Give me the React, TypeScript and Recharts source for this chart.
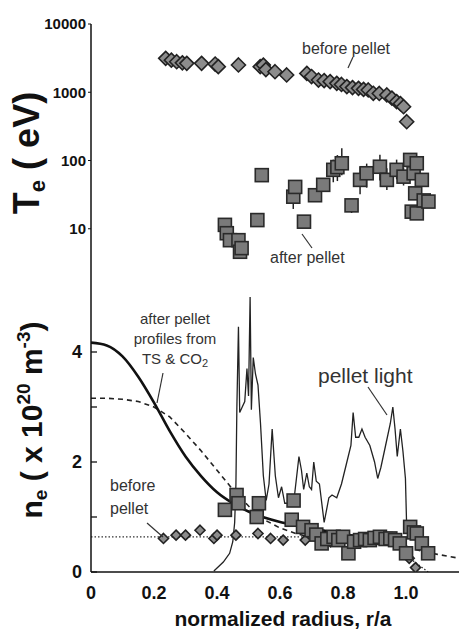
import React from "react";
import { ComposedChart, ErrorBar, Line, Scatter, XAxis, YAxis } from "recharts";

const FONT = "'Liberation Sans', Arial, Helvetica, sans-serif";
const W = 459;
const AXIS_X = 91;
const X_MAX = 1.168;
const INK = "#111";

// ---- top panel: Te (eV), log scale ----
const teBeforeR = [0.237, 0.255, 0.272, 0.29, 0.304, 0.351, 0.394, 0.404, 0.468, 0.537, 0.547, 0.555, 0.584, 0.621, 0.685, 0.7, 0.722, 0.74, 0.759, 0.78, 0.795, 0.812, 0.83, 0.849, 0.865, 0.88, 0.896, 0.915, 0.939, 0.955, 0.97, 0.982, 0.992, 1.002];
const teBeforeT = [3140, 2950, 2800, 2700, 2650, 2650, 2590, 2370, 2510, 2370, 2500, 2150, 2000, 1790, 1890, 1700, 1510, 1480, 1430, 1350, 1300, 1210, 1170, 1140, 1100, 1080, 966, 960, 912, 820, 728, 680, 614, 370];
const teAfterR = [0.425, 0.431, 0.441, 0.468, 0.473, 0.478, 0.528, 0.542, 0.642, 0.648, 0.676, 0.711, 0.737, 0.769, 0.782, 0.796, 0.827, 0.854, 0.875, 0.917, 0.939, 0.97, 0.992, 1.013, 1.018, 1.024, 1.029, 1.034, 1.034, 1.05, 1.056, 1.071];
const teAfterT = [11.4, 8.6, 6.8, 6.8, 4.6, 5.2, 13.4, 61, 29.5, 41, 12.7, 31, 44, 73, 80, 91, 22, 52, 65, 81, 52, 73, 58, 102, 17.8, 65, 33, 91, 16.8, 52, 26, 25];
const teAfterErrLo = [0, 0, 0, 0, 0, 0, 0, 12, 10, 8, 0, 0, 0, 25, 30, 30, 5, 20, 25, 30, 15, 20, 15, 0, 0, 0, 0, 0, 0, 0, 0, 0];
const teAfterErrHi = [0, 0, 0, 0, 0, 0, 0, 5, 8, 8, 0, 0, 0, 30, 40, 60, 5, 30, 25, 40, 25, 30, 20, 0, 0, 0, 0, 0, 0, 0, 0, 0];
const teTicks = [10, 100, 1000, 10000];

// ---- bottom panel: ne (1e20 m^-3) ----
const tsR = [0, 0.05, 0.1, 0.15, 0.2, 0.25, 0.3, 0.35, 0.4, 0.45, 0.5, 0.55, 0.6, 0.65, 0.7, 0.75, 0.8, 0.85, 0.9, 0.95, 1.0];
const tsNe = [4.17, 4.12, 3.92, 3.55, 3.08, 2.56, 2.1, 1.74, 1.45, 1.25, 1.1, 0.99, 0.91, 0.85, 0.79, 0.74, 0.69, 0.65, 0.62, 0.58, 0.52];
const co2R = [0, 0.05, 0.1, 0.15, 0.2, 0.25, 0.3, 0.35, 0.4, 0.45, 0.5, 0.55, 0.6, 0.65, 0.7, 0.8, 0.9, 1.0, 1.05, 1.1, 1.168];
const co2Ne = [3.16, 3.16, 3.14, 3.1, 3.0, 2.82, 2.52, 2.2, 1.85, 1.5, 1.2, 0.95, 0.8, 0.7, 0.63, 0.57, 0.52, 0.45, 0.38, 0.32, 0.25];
const beforeR = [0, 0.95, 1.0, 1.07];
const beforeNe = [0.64, 0.64, 0.3, 0];
const lightR = [0.39, 0.42, 0.44, 0.45, 0.456, 0.46, 0.463, 0.468, 0.472, 0.48, 0.488, 0.495, 0.5, 0.505, 0.509, 0.515, 0.522, 0.53, 0.538, 0.547, 0.556, 0.565, 0.575, 0.585, 0.595, 0.605, 0.615, 0.63, 0.645, 0.66, 0.668, 0.675, 0.685, 0.693, 0.7, 0.707, 0.715, 0.725, 0.74, 0.755, 0.765, 0.78, 0.795, 0.81, 0.825, 0.832, 0.84, 0.85, 0.86, 0.87, 0.885, 0.9, 0.91, 0.92, 0.935, 0.95, 0.958, 0.965, 0.972, 0.982, 0.99, 0.998, 1.002];
const lightNe = [0.02, 0.18, 0.34, 0.55, 0.9, 1.6, 3.0, 4.46, 2.9, 3.0, 3.1, 3.7, 3.2, 5.0, 2.95, 3.9, 3.6, 3.4, 2.7, 1.75, 1.3, 1.6, 2.6, 1.75, 1.35, 1.55, 1.25, 1.25, 1.35, 2.1, 1.85, 1.5, 1.8, 1.55, 1.5, 2.0, 1.65, 1.6, 0.9, 1.35, 1.4, 1.35, 1.6, 1.95, 2.3, 2.9, 2.45, 2.45, 2.6, 2.45, 2.3, 2.0, 1.7, 1.9, 2.3, 2.7, 3.0, 2.6, 2.1, 2.6, 2.2, 1.7, 0.8];
const neAfterR = [0.425, 0.462, 0.468, 0.526, 0.533, 0.637, 0.643, 0.673, 0.7, 0.715, 0.732, 0.75, 0.77, 0.785, 0.8, 0.817, 0.835, 0.854, 0.87, 0.885, 0.9, 0.917, 0.935, 0.95, 0.965, 0.98, 1.0, 1.013, 1.025, 1.034, 1.05, 1.07];
const neAfterNe = [1.13, 1.4, 1.25, 1.0, 1.25, 0.95, 1.3, 0.82, 0.76, 0.68, 0.52, 0.6, 0.64, 0.58, 0.64, 0.34, 0.55, 0.58, 0.6, 0.58, 0.62, 0.64, 0.6, 0.61, 0.58, 0.52, 0.34, 0.82, 0.72, 0.7, 0.52, 0.34];
const neBeforeR = [0.23, 0.27, 0.3, 0.346, 0.39, 0.4, 0.46, 0.53, 0.57, 0.61, 0.68, 0.72, 0.76, 0.8, 0.84, 0.88, 0.92, 0.96, 0.99, 1.01, 1.03];
const neBeforeNe = [0.61, 0.67, 0.67, 0.76, 0.61, 0.67, 0.67, 0.7, 0.61, 0.58, 0.58, 0.6, 0.55, 0.62, 0.58, 0.6, 0.62, 0.58, 0.45, 0.25, 0.08];
const neTicks = [0, 1, 2, 3, 4];
const rTicks = [0, 0.2, 0.4, 0.6, 0.8, 1.0];

const pts = (xs: number[], ys: number[]) => xs.map((r, i) => ({ r, v: ys[i] }));
const teAfter = teAfterR.map((r, i) => ({ r, v: teAfterT[i], err: [teAfterErrLo[i], teAfterErrHi[i]] }));

const DiamondShape = (props: any) => {
  const { cx, cy, h = 7 } = props;
  if (cx == null || cy == null) return null;
  return (
    <polygon
      points={`${cx},${cy - h} ${cx + h},${cy} ${cx},${cy + h} ${cx - h},${cy}`}
      fill="#8c8c8c"
      stroke="#222"
      strokeWidth={1.6}
    />
  );
};

const SquareShape = (props: any) => {
  const { cx, cy, h = 6.5 } = props;
  if (cx == null || cy == null) return null;
  return <rect x={cx - h} y={cy - h} width={2 * h} height={2 * h} fill="#7a7a7a" stroke="#2a2a2a" strokeWidth={1.6} />;
};

const NeTick = (props: any) => {
  const { y, payload } = props;
  return (
    <g>
      <line x1={AXIS_X} x2={AXIS_X + 6} y1={y} y2={y} stroke={INK} strokeWidth={1.3} />
      {payload.value % 2 === 0 ? (
        <text x={AXIS_X - 9} y={y} dy="0.35em" textAnchor="end" fontFamily={FONT} fontWeight="bold" fontSize={18} fill={INK}>
          {payload.value}
        </text>
      ) : null}
    </g>
  );
};

const note: React.CSSProperties = {
  position: "absolute",
  fontFamily: FONT,
  color: "#333",
  whiteSpace: "nowrap",
  lineHeight: 1,
};

export default function App() {
  return (
    <div style={{ position: "absolute", left: 0, top: 0, width: W, height: 630, background: "#fff", overflow: "hidden" }}>
      <div style={{ position: "absolute", left: 0, top: 0 }}>
        <ComposedChart width={W} height={300} margin={{ top: 24, right: 0, bottom: 3, left: 0 }}>
          <XAxis dataKey="r" type="number" domain={[0, X_MAX]} hide allowDataOverflow />
          <XAxis xAxisId="top" orientation="top" type="number" domain={[0, X_MAX]} height={0} tick={false} tickLine={false} axisLine={{ stroke: INK, strokeWidth: 1.5 }} />
          <YAxis
            dataKey="v"
            scale="log"
            domain={[1, 10000]}
            ticks={teTicks}
            width={AXIS_X}
            allowDataOverflow
            tickSize={3}
            tickMargin={2}
            axisLine={{ stroke: INK, strokeWidth: 1.5 }}
            tickLine={{ stroke: INK }}
            tick={{ fontFamily: FONT, fontWeight: "bold", fontSize: 15, fill: INK }}
          />
          <Scatter data={pts(teBeforeR, teBeforeT)} dataKey="v" shape={<DiamondShape h={7} />} isAnimationActive={false} />
          <Scatter data={teAfter} dataKey="v" shape={<SquareShape h={6.5} />} isAnimationActive={false}>
            <ErrorBar dataKey="err" direction="y" width={0} stroke="#222" strokeWidth={1.5} />
          </Scatter>
        </ComposedChart>
      </div>

      <div style={{ position: "absolute", left: 0, top: 0 }}>
        <ComposedChart width={W} height={630} margin={{ top: 297, right: 0, bottom: 28, left: 0 }}>
          <XAxis
            dataKey="r"
            type="number"
            domain={[0, X_MAX]}
            ticks={rTicks}
            height={30}
            allowDataOverflow
            tickLine={false}
            tickMargin={8}
            axisLine={{ stroke: INK, strokeWidth: 1.5 }}
            tickFormatter={(v: number) => (v === 0 ? "0" : v.toFixed(1))}
            tick={{ fontFamily: FONT, fontWeight: "bold", fontSize: 18, fill: INK }}
          />
          <XAxis
            xAxisId="top"
            orientation="top"
            type="number"
            domain={[0, X_MAX]}
            ticks={[0.2, 0.4, 0.6, 0.8, 1.0]}
            height={0}
            tick={false}
            tickSize={5}
            tickLine={{ stroke: INK, strokeWidth: 1.3 }}
            axisLine={{ stroke: INK, strokeWidth: 1.5 }}
          />
          <YAxis
            dataKey="v"
            type="number"
            domain={[0, 5]}
            ticks={neTicks}
            width={AXIS_X}
            allowDataOverflow
            tickLine={false}
            axisLine={{ stroke: INK, strokeWidth: 1.5 }}
            tick={<NeTick />}
          />
          <Line data={pts(beforeR, beforeNe)} dataKey="v" dot={false} stroke="#333" strokeWidth={1.3} strokeDasharray="1.5 2" isAnimationActive={false} />
          <Line data={pts(co2R, co2Ne)} dataKey="v" dot={false} stroke="#222" strokeWidth={1.6} strokeDasharray="5 4" isAnimationActive={false} />
          <Line data={pts(tsR, tsNe)} dataKey="v" dot={false} type="monotone" stroke={INK} strokeWidth={2.6} isAnimationActive={false} />
          <Line data={pts(lightR, lightNe)} dataKey="v" dot={false} stroke="#222" strokeWidth={1.3} isAnimationActive={false} />
          <Scatter data={pts(neBeforeR, neBeforeNe)} dataKey="v" shape={<DiamondShape h={5} />} isAnimationActive={false} />
          <Scatter data={pts(neAfterR, neAfterNe)} dataKey="v" shape={<SquareShape h={6.5} />} isAnimationActive={false} />
        </ComposedChart>
      </div>

      <svg width={W} height={630} style={{ position: "absolute", left: 0, top: 0, pointerEvents: "none" }}>
        <g stroke="#333" strokeWidth={1.2}>
          <line x1={353} y1={57} x2={348} y2={68} />
          <line x1={302} y1={234} x2={312} y2={248} />
          <line x1={163} y1={373} x2={157} y2={403} />
          <line x1={368} y1={387} x2={387} y2={415} />
          <line x1={147} y1={523} x2={163} y2={537} />
        </g>
      </svg>

      <div style={{ ...note, left: 302, top: 41, fontSize: 16 }}>before pellet</div>
      <div style={{ ...note, left: 270, top: 250, fontSize: 16 }}>after pellet</div>
      <div style={{ ...note, left: 175, top: 309, fontSize: 15, transform: "translateX(-50%)", textAlign: "center", lineHeight: "20px" }}>
        after pellet
        <br />
        profiles from
        <br />
        TS &amp; CO<sub style={{ fontSize: 11, verticalAlign: "-3px" }}>2</sub>
      </div>
      <div style={{ ...note, left: 318, top: 365, fontSize: 21 }}>pellet light</div>
      <div style={{ ...note, left: 110, top: 474, fontSize: 16, lineHeight: "23px" }}>
        before
        <br />
        pellet
      </div>

      <div
        style={{
          ...note,
          color: INK,
          left: 29,
          top: 153,
          fontSize: 36,
          fontWeight: "bold",
          transform: "translate(-50%, -50%) rotate(-90deg)",
        }}
      >
        T<sub style={{ fontSize: 22, verticalAlign: "-6px" }}>e</sub> ( eV)
      </div>
      <div
        style={{
          ...note,
          color: INK,
          left: 32,
          top: 420,
          fontSize: 30,
          fontWeight: "bold",
          transform: "translate(-50%, -50%) rotate(-90deg)",
        }}
      >
        n<sub style={{ fontSize: 19, verticalAlign: "-5px" }}>e</sub> ( x 10<sup style={{ fontSize: 19, verticalAlign: "12px" }}>20</sup> m<sup style={{ fontSize: 19, verticalAlign: "12px" }}>-3</sup>)
      </div>
      <div style={{ ...note, color: INK, left: 283, top: 618, fontSize: 21, fontWeight: "bold", transform: "translate(-50%, -50%)" }}>
        normalized radius, r/a
      </div>
    </div>
  );
}
